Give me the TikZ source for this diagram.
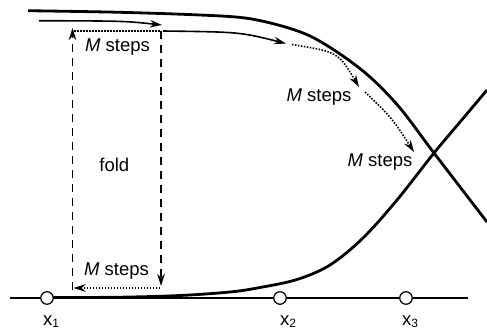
\documentclass[tikz,border=0pt]{standalone}
\usepackage{fontspec}
\setmainfont{Liberation Sans}
\usetikzlibrary{arrows.meta}
\begin{document}
\begin{tikzpicture}[x=1pt,y=-1pt,
  thickcurve/.style={line width=2.8pt},
  axisline/.style={line width=1.4pt},
  thincurve/.style={line width=1.6pt},
  dashline/.style={line width=1.6pt, dash pattern=on 8pt off 6pt},
  dotline/.style={line width=1.6pt, dash pattern=on 1.5pt off 1.5pt},
  arr/.style={-{Stealth[length=12pt,width=7.5pt,inset=3.8pt]}},
  pnode/.style={circle, draw, fill=white, line width=1.2pt, minimum size=12.5pt, inner sep=0pt},
  lbl/.style={inner sep=0pt, font=\fontsize{18.5}{20}\selectfont}]
\useasboundingbox (0,0) rectangle (487,329);
% axis
\coordinate (axL) at (10,298);
\coordinate (axR) at (468,298);
\draw[axisline] (axL) -- (axR);
% rising curve
\draw[thickcurve] plot[smooth,tension=0.55] coordinates {(47,297.6) (120,297.2) (180,295.5) (230,292) (260,287.5) (297,279.5) (330,265) (363,238) (397,200) (434,153) (463,118.5) (487,90)};
% falling curve
\draw[thickcurve] plot[smooth,tension=0.55] coordinates {(28,10.7) (120,12.3) (200,15) (245,18) (280,25.5) (310,36) (340,54) (370,77) (400,108) (434,153) (487,222)};
% thin solid arrows
\coordinate (a1s) at (39,20.7);
\coordinate (a1e) at (162,25);
\draw[thincurve, arr] (a1s) .. controls (125,21) .. (a1e);
\coordinate (a2s) at (163,31);
\coordinate (a2e) at (286,43.5);
\draw[thincurve, arr] (a2s) .. controls (240,32) .. (a2e);
% dotted arrows along the curve
\coordinate (d1s) at (292,44.5);
\coordinate (d1e) at (359,87);
\draw[dotline, arr] (d1s) .. controls (338,52) .. (d1e);
\coordinate (d2s) at (365,92);
\coordinate (d2e) at (414,152);
\draw[dotline, arr] (d2s) .. controls (392,118) .. (d2e);
% fold box
\coordinate (tl) at (74,31);
\coordinate (tr) at (160,31);
\draw[dotline] (tl) -- (tr);
\coordinate (br) at (160,288);
\coordinate (bl) at (73.5,288);
\draw[dotline, arr] (br) -- (bl);
\coordinate (lvb) at (72.5,290);
\coordinate (lvt) at (72.5,28);
\draw[dashline, arr] (lvb) -- (lvt);
\coordinate (rvt) at (161,31);
\coordinate (rvb) at (161,286);
\draw[dashline, arr] (rvt) -- (rvb);
% points
\node[pnode] (c1) at (47,298) {};
\node[pnode] (c2) at (280,298) {};
\node[pnode] (c3) at (406,298) {};
% labels
\node[lbl, anchor=base] (m1) at (117.5,51.5) {\textit{M} steps};
\node[lbl, anchor=base] (m2) at (319,101.5) {\textit{M} steps};
\node[lbl, anchor=base] (m3) at (380,166) {\textit{M} steps};
\node[lbl, anchor=base] (m4) at (116.5,275) {\textit{M} steps};
\node[lbl, anchor=base] (fold) at (114.3,171.5) {fold};
\node[lbl, anchor=base west] (x1) at (43,325) {x\raisebox{-2pt}{\fontsize{12}{12}\selectfont 1}};
\node[lbl, anchor=base west] (x2) at (280,325) {x\raisebox{-2pt}{\fontsize{12}{12}\selectfont 2}};
\node[lbl, anchor=base west] (x3) at (402,325) {x\raisebox{-2pt}{\fontsize{12}{12}\selectfont 3}};
\end{tikzpicture}
\end{document}
